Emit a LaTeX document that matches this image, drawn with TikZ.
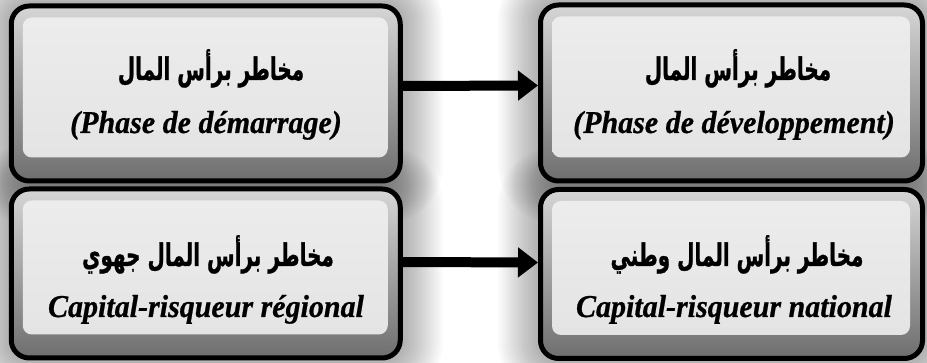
\documentclass[tikz,border=0pt]{standalone}
\usepackage{fontspec}
\setmainfont{Liberation Serif}[BoldItalicFeatures={FakeBold=0.7}]
\newfontfamily\arabicfont[Script=Arabic,BoldFeatures={FakeBold=1.2}]{DejaVu Sans}
\TeXXeTstate=1
\usetikzlibrary{arrows.meta,calc}
\pgfdeclarelayer{background}
\pgfsetlayers{background,main}
\definecolor{panelfill}{HTML}{E4E4E4}
\definecolor{paneltop}{HTML}{ECECEC}
\definecolor{bevtop}{HTML}{D6D6D6}
\definecolor{bevbot}{HTML}{6E6E6E}
\tikzset{
  frame/.style 2 args={draw=black, line width=5pt, rounded corners=18pt,
    top color=bevtop, bottom color=bevbot, inner sep=0pt,
    minimum width=#1, minimum height=#2},
  panel/.style={rounded corners=9pt, top color=paneltop, bottom color=panelfill},
  artext/.style={anchor=base, inner sep=0pt, xscale=0.74, yscale=1.15,
    font=\arabicfont\bfseries\fontsize{27}{30}\selectfont},
  latext/.style={anchor=base, inner sep=0pt, yscale=1.06,
    font=\bfseries\itshape\fontsize{30}{36}\selectfont},
  link/.style={line width=10pt, -{Triangle[length=20pt,width=29pt]}},
  glow/.style={fill=black, fill opacity=0.02},
}
\newcommand{\boxglow}[1]{%
  \foreach \e in {2.5,5,...,40}{%
    \path[glow, rounded corners=18pt+\e pt]
      ($(#1.north west)+(-\e,-\e)$) rectangle ($(#1.south east)+(\e,\e)$);
  }}
\newcommand{\boxpanel}[1]{%
  \path[panel] ($(#1.north west)+(14,14)$) rectangle ($(#1.south east)+(-15,-26)$);}
\begin{document}
\begin{tikzpicture}[x=1pt,y=-1pt]
\useasboundingbox (0,0) rectangle (927,363);

% frames
\node[frame={389pt}{175pt}] (f1) at (205.75,93.5) {};
\node[frame={382pt}{176pt}] (f2) at (731.5,93) {};
\node[frame={389pt}{169pt}] (f3) at (205.75,273.5) {};
\node[frame={382pt}{169pt}] (f4) at (731.5,274) {};

% inner panels
\boxpanel{f1}\boxpanel{f2}\boxpanel{f3}\boxpanel{f4}

% page and soft shadows
\begin{pgfonlayer}{background}
  \fill[white] (0,0) rectangle (927,363);
  \boxglow{f1}\boxglow{f2}\boxglow{f3}\boxglow{f4}
\end{pgfonlayer}

% labels
\node[artext] (a1) at (211,80) {\beginR مخاطر برأس المال\endR};
\node[latext] (l1) at (206,133) {(Phase de démarrage)};
\node[artext] (a2) at (738,80) {\beginR مخاطر برأس المال\endR};
\node[latext] (l2) at (734,133) {(Phase de développement)};
\node[artext] (a3) at (208,266) {\beginR مخاطر برأس المال جهوي\endR};
\node[latext] (l3) at (206,317) {Capital-risqueur régional};
\node[artext] (a4) at (737,266) {\beginR مخاطر برأس المال وطني\endR};
\node[latext] (l4) at (734,317) {Capital-risqueur national};

% connectors
\draw[link] ([yshift=7.5pt]f1.east) -- ([yshift=7.5pt]f2.west);
\draw[link] ([yshift=11.5pt]f3.east) -- ([yshift=11.5pt]f4.west);
\end{tikzpicture}
\end{document}
